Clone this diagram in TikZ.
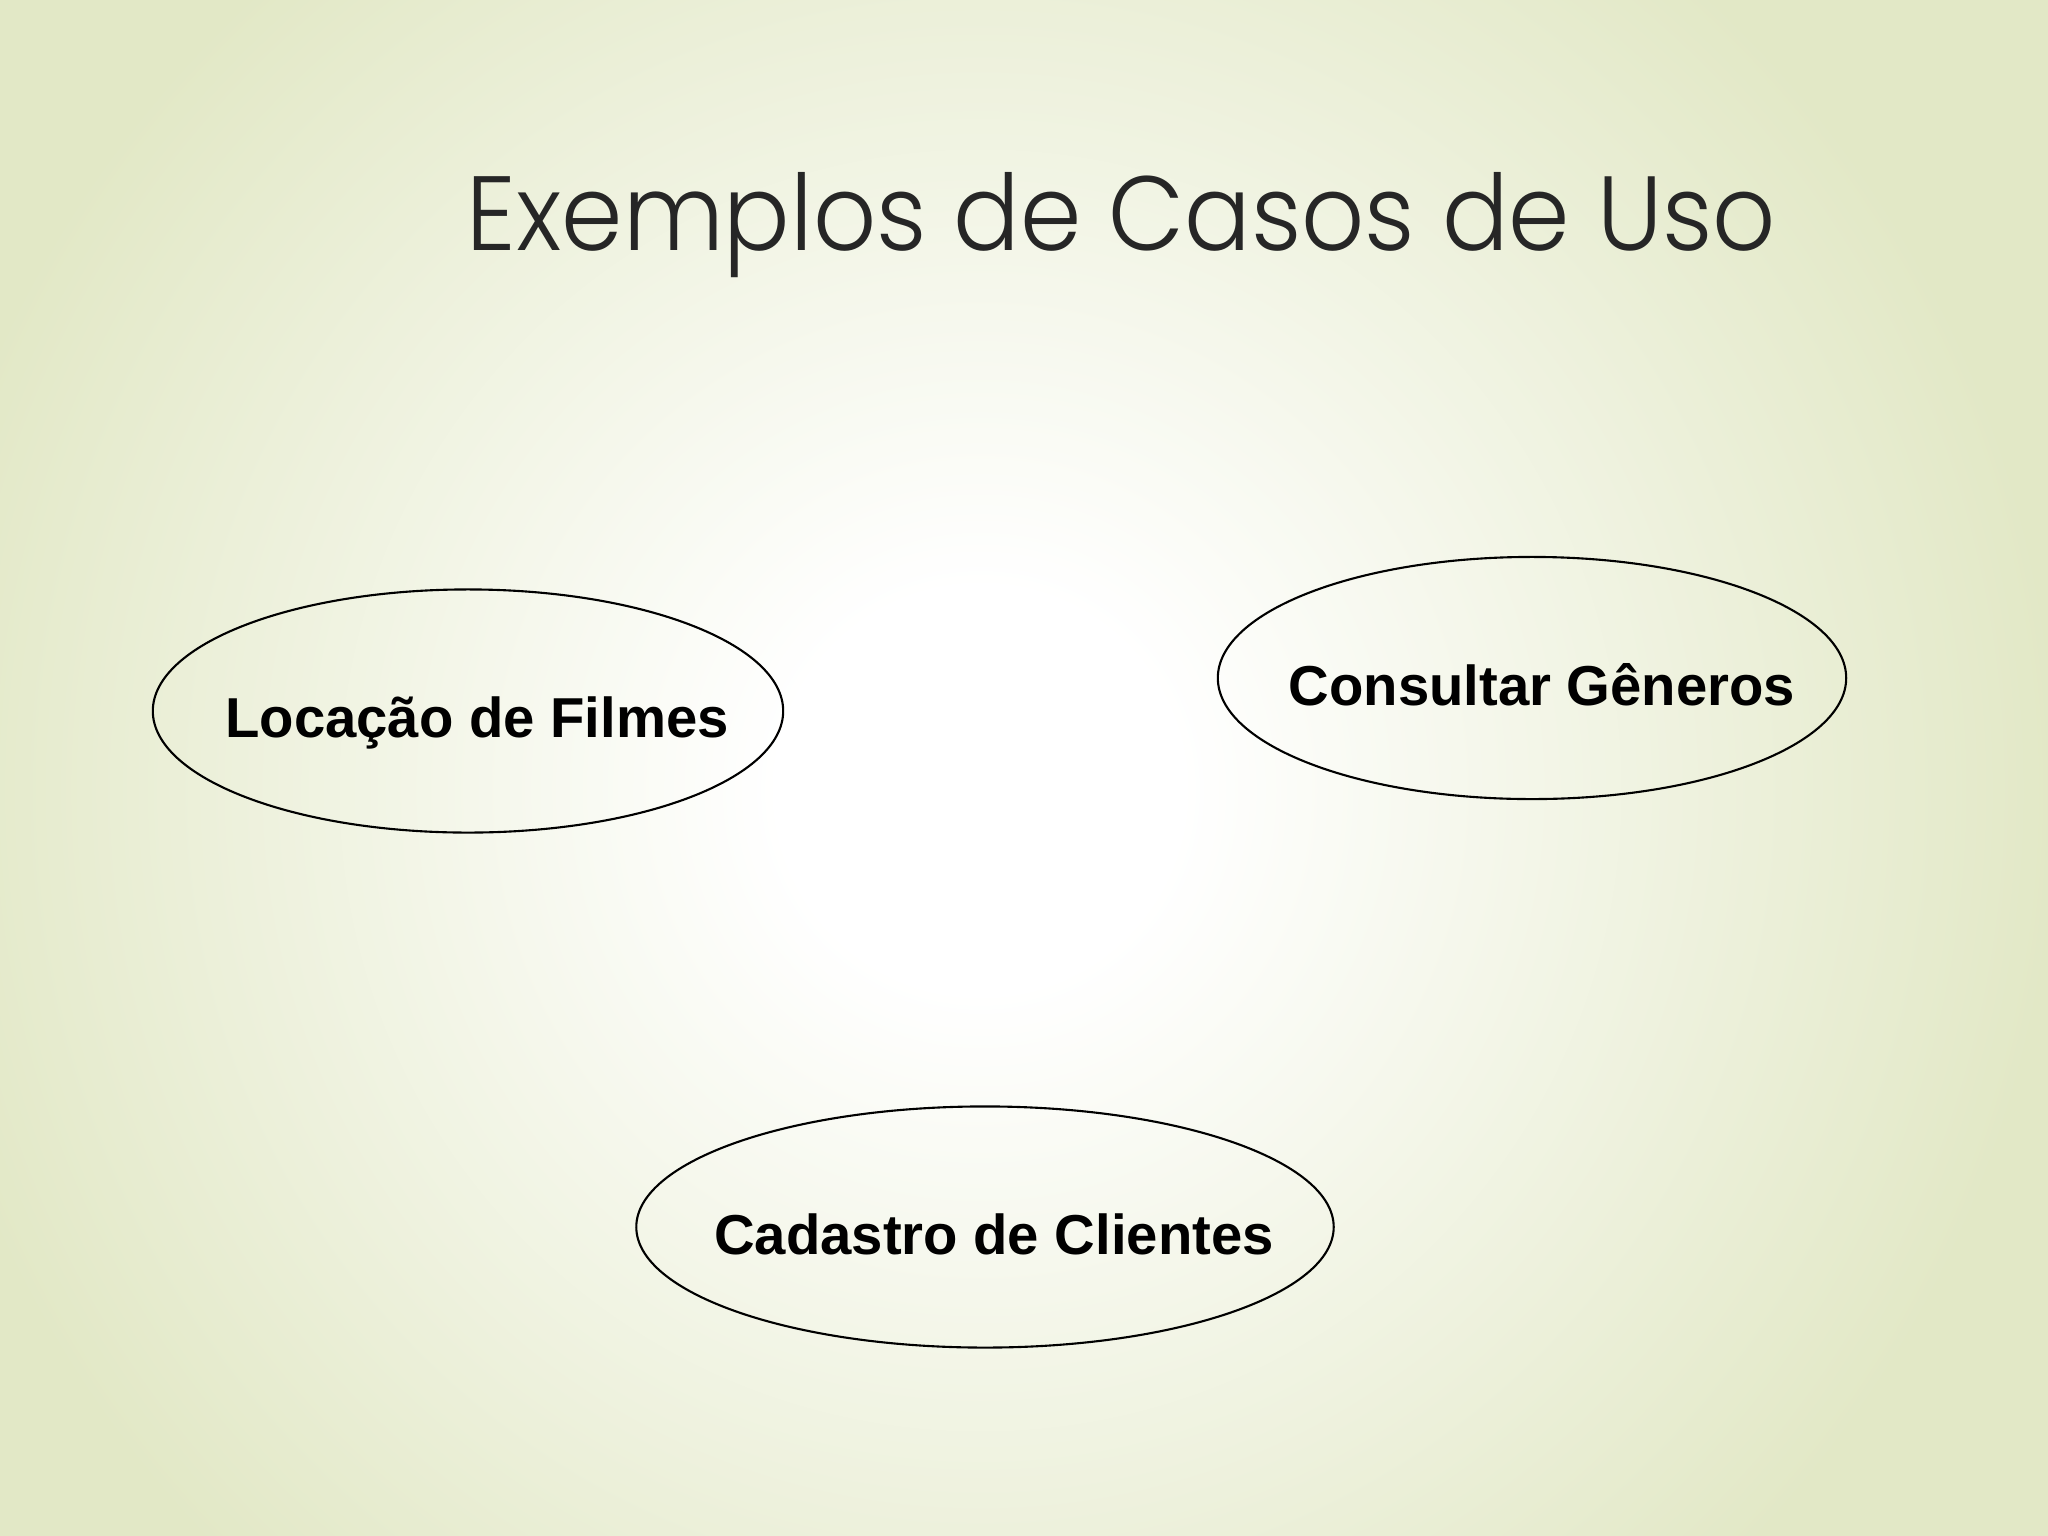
\documentclass[tikz,border=0pt]{standalone}
\usepackage{fontspec}
\setmainfont{Liberation Sans}
\newfontfamily\titlefont{Poppins Light}
\usetikzlibrary{shapes.geometric}
\definecolor{bgedge}{RGB}{226,232,198}
\definecolor{titlegray}{RGB}{38,38,38}
\pgfdeclareradialshading{bgshade}{\pgfpoint{0bp}{0bp}}{color(0bp)=(white); color(3.85bp)=(white); color(20.8bp)=(bgedge); color(50bp)=(bgedge)}
\tikzset{
  usecase/.style={draw=black, line width=0.6pt, ellipse, inner sep=0pt},
  uclabel/.style={font=\fontsize{16}{19}\selectfont\bfseries, text=black, inner sep=0pt, anchor=base},
  titlestyle/.style={font=\titlefont\fontsize{30}{36}\selectfont, text=titlegray, inner sep=0pt, anchor=base west}
}
\begin{document}
\begin{tikzpicture}[x=0.01cm, y=-0.01cm]
\useasboundingbox (0,0) rectangle (2048,1536);
\fill[bgedge] (0,0) rectangle (2048,1536);
\begin{scope}
\clip (0,0) rectangle (2048,1536);
\shade[shading=bgshade] (-320,-510) rectangle (2280,2090);
\end{scope}
\node[titlestyle] (title) at (466,250) {\scalebox{0.935}[1]{Exemplos de Casos de Uso}};
\node[usecase, minimum width=6.30cm, minimum height=2.43cm] (e1) at (468,711) {};
\node[usecase, minimum width=6.28cm, minimum height=2.42cm] (e2) at (1532,678) {};
\node[usecase, minimum width=6.97cm, minimum height=2.41cm] (e3) at (985,1227) {};
\node[uclabel] (t1) at (477,737) {Locação de Filmes};
\node[uclabel] (t2) at (1542,705) {Consultar Gêneros};
\node[uclabel] (t3) at (994,1254) {Cadastro de Clientes};
\end{tikzpicture}
\end{document}
